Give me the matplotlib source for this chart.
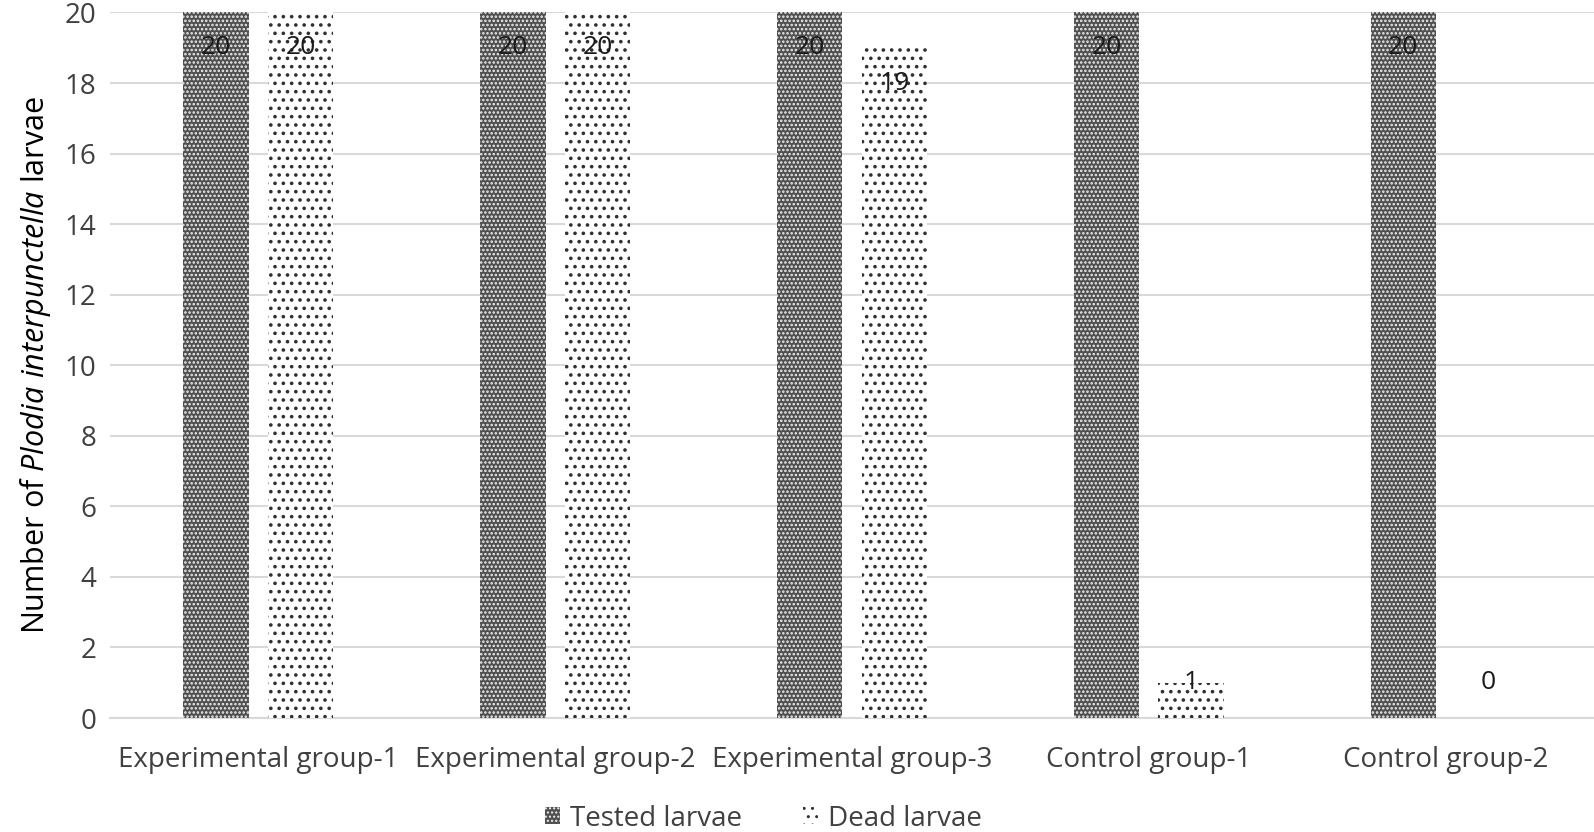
import matplotlib
matplotlib.use("Agg")
import matplotlib.pyplot as plt
import matplotlib.patches as mpatches
import numpy as np

categories = ["Experimental group-1", "Experimental group-2", "Experimental group-3",
              "Control group-1", "Control group-2"]
tested = [20, 20, 20, 20, 20]
dead = [20, 20, 19, 1, 0]
yticks = list(range(0, 21, 2))

fam = "Open Sans"
plt.rcParams['font.family'] = [fam, 'DejaVu Sans']
plt.rcParams['mathtext.fontset'] = 'custom'
plt.rcParams['mathtext.rm'] = fam
plt.rcParams['mathtext.it'] = fam + ':italic'

fig = plt.figure(figsize=(15.94, 8.32), dpi=100)
ax = fig.add_axes([0.069, 0.137, 0.931, 0.848])

x = np.arange(len(categories))
w = 0.22
off = 0.1425
TEST_FC = '#505050'
with plt.rc_context({'hatch.linewidth': 1.2}):
    ax.bar(x - off, tested, w, facecolor=TEST_FC, edgecolor='#f0f0f0', hatch='....', linewidth=0, zorder=3)
    h1 = mpatches.Patch(facecolor=TEST_FC, edgecolor='#f0f0f0', hatch='....', linewidth=0)
with plt.rc_context({'hatch.linewidth': 1.4}):
    ax.bar(x + off, dead, w, facecolor='white', edgecolor='#303030', hatch='..', linewidth=0, zorder=3)
    h2 = mpatches.Patch(facecolor='white', edgecolor='#303030', hatch='..', linewidth=0)

for xi, v in zip(x - off, tested):
    ax.text(xi, max(v - 1, 1), str(v), ha='center', va='center', fontsize=19, color='#1a1a1a', zorder=4)
for xi, v in zip(x + off, dead):
    ax.text(xi, max(v - 1, 1), str(v), ha='center', va='center', fontsize=19, color='#1a1a1a', zorder=4)

ax.set_xlim(-0.5, len(categories) - 0.5)
ax.set_ylim(0, 20)
ax.set_yticks(yticks)
ax.set_xticks(x)
ax.set_xticklabels(categories, fontsize=20, color='#404040')
ax.tick_params(axis='x', length=0, pad=20)
ax.tick_params(axis='y', length=0, pad=10, labelsize=20, labelcolor='#404040')
ax.yaxis.grid(True, color='#d9d9d9', linewidth=1.5, zorder=0)
for s in ['top', 'right', 'left']:
    ax.spines[s].set_visible(False)
ax.spines['bottom'].set_color('#d9d9d9')
ax.spines['bottom'].set_linewidth(1.5)
ax.set_ylabel(r"Number of $\it{Plodia\ interpunctella}$ larvae", fontsize=22, color='black', labelpad=8)

fig.legend([h1, h2], ["Tested larvae", "Dead larvae"], loc='center', bbox_to_anchor=(0.479, 0.016),
           ncol=2, frameon=False, fontsize=20, handlelength=0.55, handleheight=0.55,
           columnspacing=2.2, handletextpad=0.35, labelcolor='#404040')

fig.savefig("out.png", dpi=100)
